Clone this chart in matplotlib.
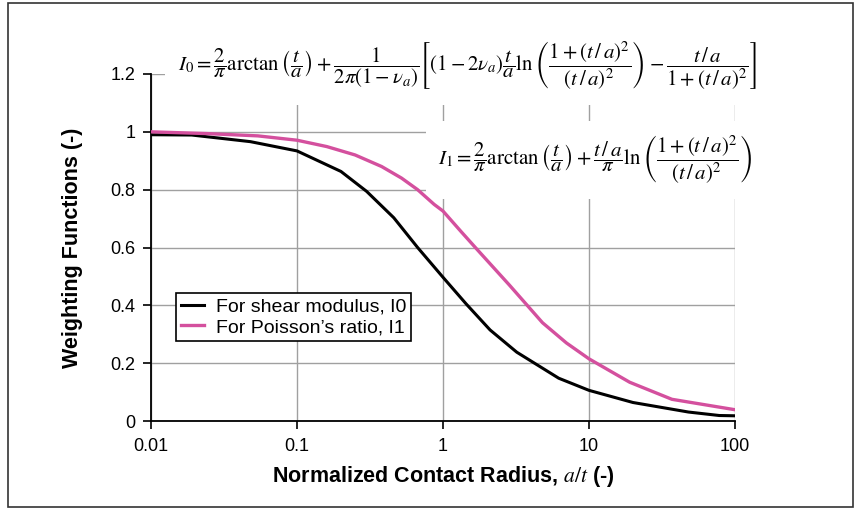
import matplotlib
matplotlib.use("Agg")
import matplotlib.pyplot as plt
from matplotlib.patches import Rectangle

# ---- data ----
i0_x = [0.01, 0.019, 0.048, 0.1, 0.2, 0.3, 0.46, 0.67, 1.0, 1.44, 2.1, 3.2, 6.2, 10, 20, 48, 78, 100]
i0_y = [0.99, 0.989, 0.966, 0.934, 0.863, 0.794, 0.703, 0.60, 0.497, 0.405, 0.315, 0.238, 0.148, 0.106, 0.064, 0.031, 0.019, 0.018]

i1_x = [0.01, 0.024, 0.054, 0.1, 0.16, 0.25, 0.38, 0.52, 0.67, 0.87, 1.0, 1.33, 1.7, 2.85, 4.8, 7.0, 10, 19, 37, 100]
i1_y = [1.0, 0.994, 0.986, 0.971, 0.949, 0.92, 0.88, 0.84, 0.80, 0.749, 0.726, 0.655, 0.595, 0.47, 0.34, 0.27, 0.215, 0.134, 0.075, 0.039]

x_ticks = [0.01, 0.1, 1, 10, 100]
x_ticklabels = ["0.01", "0.1", "1", "10", "100"]
y_ticks = [0, 0.2, 0.4, 0.6, 0.8, 1.0, 1.2]
y_ticklabels = ["0", "0.2", "0.4", "0.6", "0.8", "1", "1.2"]

series_labels = ["For shear modulus, I0", "For Poisson\u2019s ratio, I1"]
x_label = r"Normalized Contact Radius, $a/t$ (-)"
y_label = "Weighting Functions (-)"

eq0 = (r"$I_0=\dfrac{2}{\pi}\arctan\left(\dfrac{t}{a}\right)+\dfrac{1}{2\pi(1-\nu_a)}"
       r"\left[(1-2\nu_a)\dfrac{t}{a}\ln\left(\dfrac{1+(t\,/\,a)^2}{(t\,/\,a)^2}\right)"
       r"-\dfrac{t\,/\,a}{1+(t\,/\,a)^2}\right]$")
eq1 = (r"$I_1=\dfrac{2}{\pi}\arctan\left(\dfrac{t}{a}\right)+\dfrac{t\,/\,a}{\pi}"
       r"\ln\left(\dfrac{1+(t\,/\,a)^2}{(t\,/\,a)^2}\right)$")

plt.rcParams["mathtext.fontset"] = "stix"
plt.rcParams["font.family"] = ["Liberation Sans", "DejaVu Sans"]

W, H = 859, 516
fig = plt.figure(figsize=(W / 100, H / 100), dpi=100)
fig.patch.set_facecolor("white")

# outer border
fig.patches.append(Rectangle((8 / W, 1 - 507 / H), 845 / W, 504 / H, transform=fig.transFigure,
                             fill=False, edgecolor="#333333", linewidth=1.2, zorder=0))

ax = fig.add_axes([151 / W, 1 - 421 / H, (735 - 151) / W, (421 - 74) / H])
ax.set_xscale("log")
ax.set_xlim(0.01, 100)
ax.set_ylim(0, 1.2)

ax.grid(True, which="major", color="#a0a0a0", linewidth=1.0)
ax.minorticks_off()
ax.set_axisbelow(True)
for s in ("top", "right"):
    ax.spines[s].set_visible(False)
for s in ("left", "bottom"):
    ax.spines[s].set_linewidth(1.3)
    ax.spines[s].set_color("black")

ax.set_xticks(x_ticks)
ax.set_xticklabels(x_ticklabels)
ax.set_yticks(y_ticks)
ax.set_yticklabels(y_ticklabels)
ax.tick_params(axis="both", direction="out", length=6, width=1.2, labelsize=13, colors="black")
ax.tick_params(axis="x", pad=6)
ax.tick_params(axis="y", pad=5)

ax.plot(i0_x, i0_y, color="black", linewidth=2.2, label=series_labels[0], zorder=3)
ax.plot(i1_x, i1_y, color="#d4509e", linewidth=2.4, label=series_labels[1], zorder=3)

leg = ax.legend(loc="upper left", bbox_to_anchor=(0.043, 0.368), frameon=True, fancybox=False,
                edgecolor="black", framealpha=1, fontsize=14, handlelength=1.2,
                handletextpad=0.6, borderpad=0.25, labelspacing=0.15, borderaxespad=0)
leg.get_frame().set_linewidth(1.2)
leg.set_zorder(6)

ax.set_xlabel(x_label, fontsize=15.5, fontweight="bold", labelpad=7)
ax.set_ylabel(y_label, fontsize=15.5, fontweight="bold", labelpad=20)

# equations with white backgrounds hiding the grid (above grid, below curves)
ax.text(467 / W, 1 - 66 / H, eq0, fontsize=15, ha="center", va="center", zorder=2,
        transform=fig.transFigure, clip_on=False,
        bbox=dict(facecolor="white", edgecolor="none", pad=9))
ax.text(595 / W, 1 - 160 / H, eq1, fontsize=15, ha="center", va="center", zorder=2,
        transform=fig.transFigure, clip_on=False,
        bbox=dict(facecolor="white", edgecolor="none", pad=9))

fig.savefig("out.png", dpi=100, facecolor="white")
